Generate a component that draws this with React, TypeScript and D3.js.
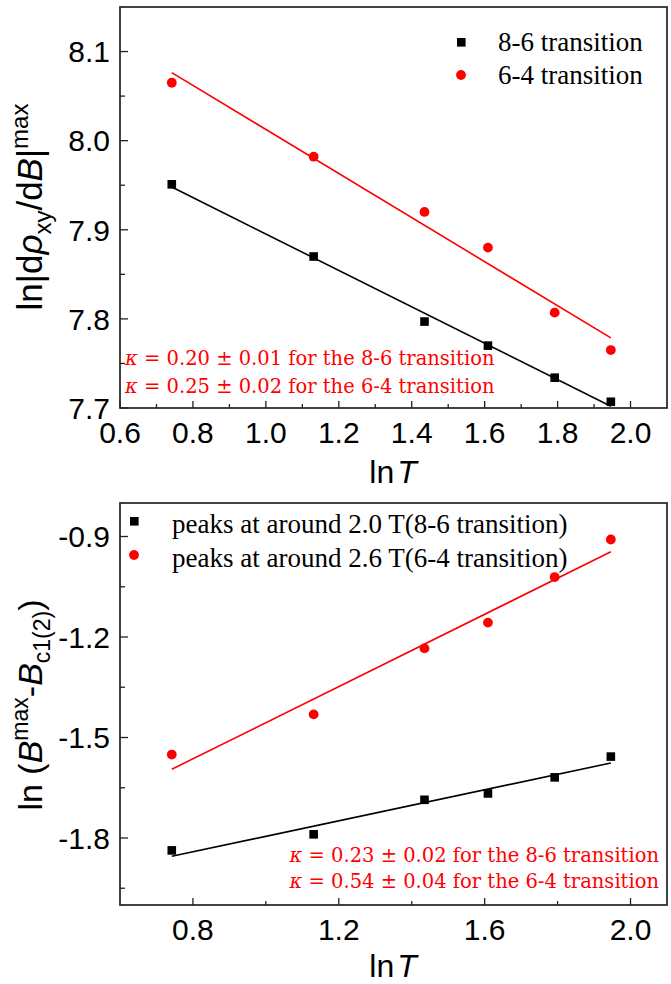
import React from "react";
import * as d3 from "d3";

// ln T values shared by both panels
const lnT = [0.742, 1.131, 1.435, 1.609, 1.792, 1.946];

// top panel: ln|d rho_xy / dB|max
const slope86 = [7.951, 7.87, 7.797, 7.77, 7.734, 7.707];
const slope64 = [8.065, 7.982, 7.92, 7.88, 7.807, 7.765];

// bottom panel: ln(B_max - B_c)
const peak86 = [-1.837, -1.789, -1.686, -1.667, -1.619, -1.557];
const peak64 = [-1.551, -1.431, -1.234, -1.157, -1.021, -0.909];

const topXMajor = [0.6, 0.8, 1.0, 1.2, 1.4, 1.6, 1.8, 2.0];
const topXMinor = [0.7, 0.9, 1.1, 1.3, 1.5, 1.7, 1.9];
const topYMajor = [7.7, 7.8, 7.9, 8.0, 8.1];
const topYMinor = [7.75, 7.85, 7.95, 8.05];

const botXMajor = [0.8, 1.2, 1.6, 2.0];
const botXMinor = [1.0, 1.4, 1.8];
const botYMajor = [-0.9, -1.2, -1.5, -1.8];
const botYMinor = [-1.05, -1.35, -1.65, -1.95];

const topLegend = ["8-6 transition", "6-4 transition"];
const botLegend = [
  "peaks at around 2.0 T(8-6 transition)",
  "peaks at around 2.6 T(6-4 transition)",
];
const topNotes = [
  ["0.20", "0.01", "8-6"],
  ["0.25", "0.02", "6-4"],
];
const botNotes = [
  ["0.23", "0.02", "8-6"],
  ["0.54", "0.04", "6-4"],
];

const RED = "#ff0000";
const SANS = "'Liberation Sans', Arial, sans-serif";
const SERIF = "'Liberation Serif', 'Times New Roman', serif";
const NOTE_FONT = "'DejaVu Serif', serif";

const fmt = (v: number) => d3.format(".1f")(v).replace("\u2212", "-");

// least squares line
function fit(xs: number[], ys: number[]) {
  const mx = d3.mean(xs)!;
  const my = d3.mean(ys)!;
  const sxy = d3.sum(xs, (x, i) => (x - mx) * (ys[i] - my));
  const sxx = d3.sum(xs, (x) => (x - mx) ** 2);
  const b = sxy / sxx;
  return (x: number) => my + b * (x - mx);
}

type Box = { left: number; top: number; right: number; bottom: number };

function Panel(props: {
  box: Box;
  yDomain: [number, number];
  xMajor: number[];
  xMinor: number[];
  yMajor: number[];
  yMinor: number[];
  black: number[];
  red: number[];
  children?: React.ReactNode;
}) {
  const { box, yDomain, xMajor, xMinor, yMajor, yMinor, black, red } = props;
  const x = d3.scaleLinear().domain([0.6, 2.1]).range([box.left, box.right]);
  const y = d3.scaleLinear().domain(yDomain).range([box.bottom, box.top]);
  const fb = fit(lnT, black);
  const fr = fit(lnT, red);
  const ends = [lnT[0], lnT[lnT.length - 1]];
  const lineB = d3.line<number>().x((d) => x(d)).y((d) => y(fb(d)));
  const lineR = d3.line<number>().x((d) => x(d)).y((d) => y(fr(d)));

  return (
    <g>
      {xMajor.map((t) => (
        <g key={"xm" + t}>
          <line x1={x(t)} x2={x(t)} y1={box.bottom} y2={box.bottom - 7} stroke="#222" strokeWidth={1.3} />
          <text x={x(t)} y={box.bottom + 35} textAnchor="middle" fontFamily={SANS} fontSize={30}>
            {fmt(t)}
          </text>
        </g>
      ))}
      {xMinor.map((t) => (
        <line key={"xn" + t} x1={x(t)} x2={x(t)} y1={box.bottom} y2={box.bottom - 4} stroke="#222" strokeWidth={1.3} />
      ))}
      {yMajor.map((t) => (
        <g key={"ym" + t}>
          <line x1={box.left} x2={box.left + 8} y1={y(t)} y2={y(t)} stroke="#222" strokeWidth={1.3} />
          <text x={box.left - 10} y={y(t)} dy="0.36em" textAnchor="end" fontFamily={SANS} fontSize={30}>
            {fmt(t)}
          </text>
        </g>
      ))}
      {yMinor.map((t) => (
        <line key={"yn" + t} x1={box.left} x2={box.left + 5} y1={y(t)} y2={y(t)} stroke="#222" strokeWidth={1.3} />
      ))}
      <path d={lineB(ends)!} stroke="#000" strokeWidth={1.6} fill="none" />
      <path d={lineR(ends)!} stroke={RED} strokeWidth={1.6} fill="none" />
      {black.map((v, i) => (
        <rect key={"b" + i} x={x(lnT[i]) - 4.3} y={y(v) - 4.3} width={8.6} height={8.6} fill="#000" />
      ))}
      {red.map((v, i) => (
        <circle key={"r" + i} cx={x(lnT[i])} cy={y(v)} r={4.9} fill={RED} />
      ))}
      <rect
        x={box.left}
        y={box.top}
        width={box.right - box.left}
        height={box.bottom - box.top}
        fill="none"
        stroke="#222"
        strokeWidth={1.7}
      />
      {props.children}
    </g>
  );
}

function Note({ x, y, anchor, vals }: { x: number; y: number; anchor: string; vals: string[] }) {
  return (
    <text x={x} y={y} textAnchor={anchor} fontFamily={NOTE_FONT} fontSize={19.5} fill={RED}>
      <tspan fontStyle="italic">κ</tspan>
      {` = ${vals[0]} ± ${vals[1]} for the ${vals[2]} transition`}
    </text>
  );
}

export default function App() {
  const topBox = { left: 120, top: 7, right: 667, bottom: 408 };
  const botBox = { left: 120, top: 503, right: 667, bottom: 905 };
  return (
    <svg
      width={671}
      height={984}
      style={{ position: "absolute", left: 0, top: 0, background: "#fff" }}
    >
      <Panel
        box={topBox}
        yDomain={[7.7, 8.15]}
        xMajor={topXMajor}
        xMinor={topXMinor}
        yMajor={topYMajor}
        yMinor={topYMinor}
        black={slope86}
        red={slope64}
      >
        <rect x={457} y={38} width={8.6} height={8.6} fill="#000" />
        <circle cx={461} cy={75} r={4.9} fill={RED} />
        <text x={498} y={51} fontFamily={SERIF} fontSize={27}>{topLegend[0]}</text>
        <text x={498} y={84} fontFamily={SERIF} fontSize={27}>{topLegend[1]}</text>
        <Note x={125} y={365} anchor="start" vals={topNotes[0]} />
        <Note x={125} y={393} anchor="start" vals={topNotes[1]} />
      </Panel>
      <text x={393} y={483} textAnchor="middle" fontFamily={SANS} fontSize={32}>
        ln<tspan fontStyle="italic" dx={3}>T</tspan>
      </text>
      <text transform="translate(42,207) rotate(-90)" textAnchor="middle" fontFamily={SANS} fontSize={35}>
        ln|d<tspan fontStyle="italic">ρ</tspan>
        <tspan fontSize={24} dy={9}>xy</tspan>
        <tspan dy={-9}>/d</tspan>
        <tspan fontStyle="italic">B</tspan>|
        <tspan fontSize={24} dy={-14}>max</tspan>
      </text>

      <Panel
        box={botBox}
        yDomain={[-2.0, -0.8]}
        xMajor={botXMajor}
        xMinor={botXMinor}
        yMajor={botYMajor}
        yMinor={botYMinor}
        black={peak86}
        red={peak64}
      >
        <rect x={130} y={517} width={8.6} height={8.6} fill="#000" />
        <circle cx={134} cy={555} r={4.9} fill={RED} />
        <text x={172} y={533} fontFamily={SERIF} fontSize={27}>{botLegend[0]}</text>
        <text x={172} y={567} fontFamily={SERIF} fontSize={27}>{botLegend[1]}</text>
        <Note x={659} y={862} anchor="end" vals={botNotes[0]} />
        <Note x={659} y={888} anchor="end" vals={botNotes[1]} />
      </Panel>
      <text x={393} y={977} textAnchor="middle" fontFamily={SANS} fontSize={32}>
        ln<tspan fontStyle="italic" dx={3}>T</tspan>
      </text>
      <text transform="translate(42,705) rotate(-90)" textAnchor="middle" fontFamily={SANS} fontSize={34}>
        ln (<tspan fontStyle="italic">B</tspan>
        <tspan fontSize={23} dy={-14}>max</tspan>
        <tspan dy={14}>-</tspan>
        <tspan fontStyle="italic">B</tspan>
        <tspan fontSize={23} dy={8}>c1(2)</tspan>
        <tspan dy={-8}>)</tspan>
      </text>
    </svg>
  );
}
